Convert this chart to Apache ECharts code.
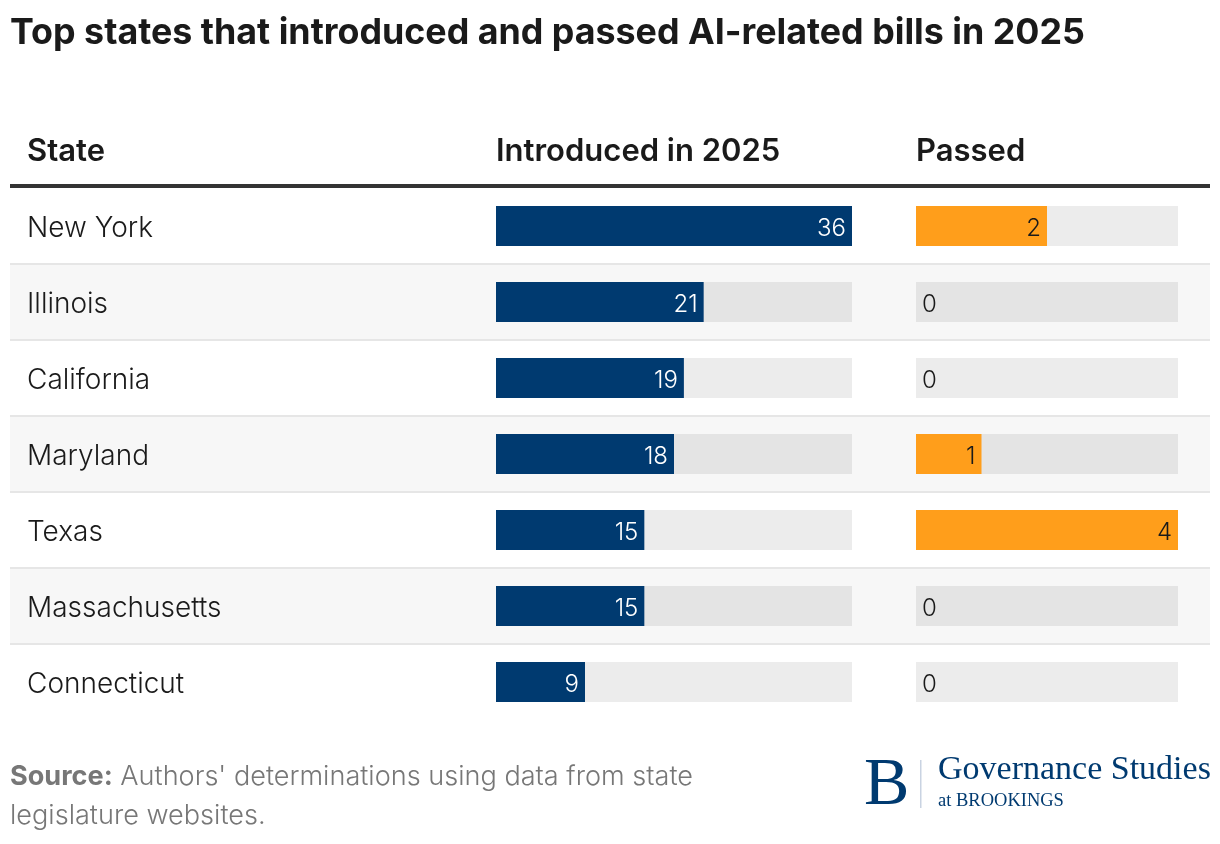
<!DOCTYPE html>
<html>
<head>
<meta charset="utf-8">
<script src="https://cdn.jsdelivr.net/npm/echarts@6/dist/echarts.min.js"></script>
<style>
  html, body { margin: 0; padding: 0; background: #fff; }
  #main { width: 1220px; height: 844px; }
</style>
</head>
<body>
<div id="main"></div>
<script>
var states = ['New York', 'Illinois', 'California', 'Maryland', 'Texas', 'Massachusetts', 'Connecticut'];
var introduced = [36, 21, 19, 18, 15, 15, 9];
var passed = [2, 0, 0, 1, 4, 0, 0];
var headers = ['State', 'Introduced in 2025', 'Passed'];

var navy = '#003a70';
var orange = '#ff9e1b';
var track = 'rgba(0,0,0,0.075)';
var font = 'Inter, "Noto Sans", sans-serif';

var chartDom = document.getElementById('main');
var myChart = echarts.init(chartDom);
var option;

var passedData = passed.map(function (v) {
  return {
    value: v,
    label: { position: v > 0 ? 'insideRight' : 'right', distance: 6 }
  };
});

// one colour per row boundary: hide the top and bottom ones
var sepColors = states.map(function (s, i) { return i === 0 ? 'rgba(0,0,0,0)' : '#e6e6e6'; });
sepColors.push('rgba(0,0,0,0)');

option = {
  animation: false,
  textStyle: { fontFamily: font },
  title: {
    text: 'Top states that introduced and passed AI-related bills in 2025',
    left: 5,
    top: 10,
    textStyle: { fontFamily: font, fontSize: 35.8, fontWeight: 'bold', color: '#1a1a1a' }
  },
  grid: [
    { left: 10, right: 10, top: 188, height: 532 },
    { left: 496, width: 356, top: 188, height: 532 },
    { left: 916, width: 262, top: 188, height: 532 }
  ],
  xAxis: [
    {
      gridIndex: 0, type: 'value', position: 'top', offset: 2, min: 0, max: 1,
      axisLine: { show: true, lineStyle: { color: '#333', width: 4, cap: 'butt' } },
      axisTick: { show: false }, axisLabel: { show: false }, splitLine: { show: false }
    },
    { gridIndex: 1, type: 'value', min: 0, max: 36, show: false },
    { gridIndex: 2, type: 'value', min: 0, max: 4, show: false }
  ],
  yAxis: [
    {
      gridIndex: 0, type: 'category', data: states, inverse: true,
      axisLine: { show: false }, axisTick: { show: false },
      axisLabel: {
        inside: true, margin: 17,
        formatter: '{s|{value}}',
        rich: {
          s: { fontSize: 28, fontWeight: 300, color: '#1a1a1a', fontFamily: font, padding: [5, 0, 0, 0] }
        }
      },
      splitArea: { show: true, areaStyle: { color: ['#ffffff', '#f7f7f7'] } },
      splitLine: { show: true, lineStyle: { color: sepColors, width: 2 } }
    },
    { gridIndex: 1, type: 'category', data: states, inverse: true, show: false },
    { gridIndex: 2, type: 'category', data: states, inverse: true, show: false }
  ],
  series: [
    {
      type: 'bar', xAxisIndex: 1, yAxisIndex: 1, data: introduced, barWidth: 40,
      itemStyle: { color: navy },
      showBackground: true, backgroundStyle: { color: track },
      label: {
        show: true, position: 'insideRight', distance: 6, offset: [0, 3], color: '#fff',
        fontSize: 24, fontWeight: 300, fontFamily: font
      }
    },
    {
      type: 'bar', xAxisIndex: 2, yAxisIndex: 2, data: passedData, barWidth: 40,
      itemStyle: { color: orange },
      showBackground: true, backgroundStyle: { color: track },
      label: {
        show: true, offset: [0, 3], color: '#1a1a1a', fontSize: 24, fontWeight: 300,
        fontFamily: font
      }
    }
  ],
  graphic: [
    { type: 'text', left: 27, top: 136, style: { text: headers[0], font: '600 31px ' + font, fill: '#1a1a1a' } },
    { type: 'text', left: 496, top: 136, style: { text: headers[1], font: '600 31px ' + font, fill: '#1a1a1a' } },
    { type: 'text', left: 916, top: 136, style: { text: headers[2], font: '600 31px ' + font, fill: '#1a1a1a' } },
    {
      type: 'text', left: 10, top: 757,
      style: {
        text: '{b|Source:} Authors\' determinations using data from state\nlegislature websites.',
        font: '300 27.1px ' + font, fill: '#777', lineHeight: 39,
        rich: { b: { fontWeight: 'bold', fontSize: 27.1, fill: '#777', fontFamily: font, lineHeight: 39 } }
      }
    },
    { type: 'text', left: 864, top: 752, style: { text: 'B', font: '68px "Liberation Serif", serif', fill: navy } },
    { type: 'rect', left: 920, top: 760, shape: { width: 1.5, height: 48 }, style: { fill: '#c9d3e2' } },
    { type: 'text', left: 938, top: 753, style: { text: 'Governance Studies', font: '34px "Liberation Serif", serif', fill: navy } },
    { type: 'text', left: 938, top: 792, style: { text: 'at BROOKINGS', font: '18.5px "Liberation Serif", serif', fill: navy } }
  ]
};

option && myChart.setOption(option);
</script>
</body>
</html>
